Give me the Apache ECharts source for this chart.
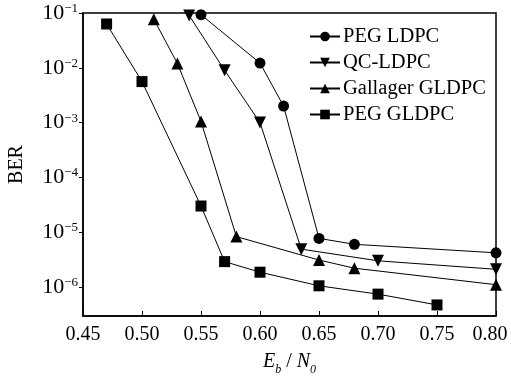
<!DOCTYPE html>
<html>
<head>
<meta charset="utf-8">
<script src="https://cdn.jsdelivr.net/npm/echarts@6/dist/echarts.min.js"></script>
<style>
  html, body { margin: 0; padding: 0; background: #fff; }
  #echarts { width: 511px; height: 376px; }
</style>
</head>
<body>
<div id="echarts"></div>
<script>
// values
const pegLdpcX = [0.55, 0.60, 0.62, 0.65, 0.68, 0.80];
const pegLdpcY = [0.093, 0.0122, 0.002, 7.7e-6, 6e-6, 4.2e-6];
const qcLdpcX = [0.54, 0.57, 0.60, 0.635, 0.70, 0.80];
const qcLdpcY = [0.09, 0.009, 0.001, 4.9e-6, 3e-6, 2.1e-6];
const gallagerX = [0.51, 0.53, 0.55, 0.58, 0.65, 0.68, 0.80];
const gallagerY = [0.077, 0.012, 1.05e-3, 8.3e-6, 3.1e-6, 2.2e-6, 1.1e-6];
const pegGldpcX = [0.47, 0.50, 0.55, 0.57, 0.60, 0.65, 0.70, 0.75];
const pegGldpcY = [0.063, 5.6e-3, 3e-5, 2.9e-6, 1.86e-6, 1.05e-6, 7.4e-7, 4.7e-7];
const xTicks = [0.45, 0.50, 0.55, 0.60, 0.65, 0.70, 0.75, 0.80];
const yTicks = [1e-6, 1e-5, 1e-4, 1e-3, 1e-2, 1e-1];

const pair = (xs, ys) => xs.map((x, i) => [x, ys[i]]);
const font = '"Liberation Serif", "DejaVu Serif", serif';

const lineSeries = (name, xs, ys, symbol, size, rotate) => ({
  name: name,
  type: 'line',
  data: pair(xs, ys),
  symbol: symbol,
  symbolSize: size,
  symbolRotate: rotate || 0,
  showAllSymbol: true,
  lineStyle: { color: '#000', width: 1 },
  itemStyle: { color: '#000' },
  emphasis: { disabled: true },
  animation: false,
});

const myChart = echarts.init(document.getElementById('echarts'), null, { renderer: 'canvas' });
myChart.setOption({
  backgroundColor: '#fff',
  animation: false,
  grid: {
    left: 83,
    top: 13,
    right: 15,
    bottom: 60,
    outerBoundsMode: 'none',
    containLabel: false,
    show: true,
    borderColor: '#000',
    borderWidth: 1.5,
  },
  legend: {
    left: 304,
    top: 21,
    orient: 'vertical',
    itemWidth: 30,
    itemHeight: 12,
    itemGap: 5,
    textStyle: { fontFamily: font, fontSize: 20.5, color: '#000', padding: [0, 0, 0, -2] },
    data: ['PEG LDPC', 'QC-LDPC', 'Gallager GLDPC', 'PEG GLDPC'],
  },
  xAxis: {
    type: 'value',
    min: 0.45,
    max: 0.80,
    interval: 0.05,
    name: '{i|E}{s|b}{n| / }{i|N}{s|0}',
    nameLocation: 'middle',
    nameGap: 36,
    nameTextStyle: {
      rich: {
        i: { fontFamily: font, fontStyle: 'italic', fontSize: 20, color: '#000', lineHeight: 22, verticalAlign: 'top' },
        n: { fontFamily: font, fontSize: 20, color: '#000', lineHeight: 22, verticalAlign: 'top' },
        s: { fontFamily: font, fontStyle: 'italic', fontSize: 12, color: '#000', lineHeight: 12, verticalAlign: 'bottom', padding: [0, 0, -2, 0] },
      },
    },
    axisLine: { show: true, lineStyle: { color: '#000', width: 1.5 } },
    axisTick: { show: true, inside: true, length: 5, lineStyle: { color: '#000' } },
    splitLine: { show: false },
    axisLabel: {
      margin: 9,
      color: '#000',
      fontFamily: font,
      fontSize: 20,
      customValues: xTicks,
      formatter: (v) => (v >= 0.8 ? '{r|' + v.toFixed(2) + '}' : v.toFixed(2)),
      rich: {
        r: { fontFamily: font, fontSize: 20, color: '#000', padding: [0, 12, 0, 0] },
      },
    },
  },
  yAxis: {
    type: 'log',
    logBase: 10,
    min: Math.pow(10, -6.53),
    max: 0.1,
    name: 'BER',
    nameLocation: 'middle',
    nameGap: 56,
    nameRotate: 90,
    nameTextStyle: { fontFamily: font, fontSize: 20, color: '#000' },
    axisLine: { show: true, lineStyle: { color: '#000', width: 1.5 } },
    axisTick: { show: true, inside: false, length: 4, customValues: yTicks, lineStyle: { color: '#000' } },
    splitLine: { show: false },
    axisLabel: {
      margin: 5,
      customValues: yTicks,
      formatter: (v) => '{b|10}{s|−' + Math.round(-Math.log10(v)) + '}',
      rich: {
        b: { fontFamily: font, fontSize: 22, color: '#000', lineHeight: 22, verticalAlign: 'bottom' },
        s: { fontFamily: font, fontSize: 13, color: '#000', lineHeight: 13, verticalAlign: 'top' },
      },
    },
  },
  series: [
    lineSeries('PEG LDPC', pegLdpcX, pegLdpcY, 'circle', 11),
    lineSeries('QC-LDPC', qcLdpcX, qcLdpcY, 'triangle', 12, 180),
    lineSeries('Gallager GLDPC', gallagerX, gallagerY, 'triangle', 12),
    lineSeries('PEG GLDPC', pegGldpcX, pegGldpcY, 'rect', 11),
  ],
});
window.addEventListener('resize', myChart.resize);
</script>
</body>
</html>
